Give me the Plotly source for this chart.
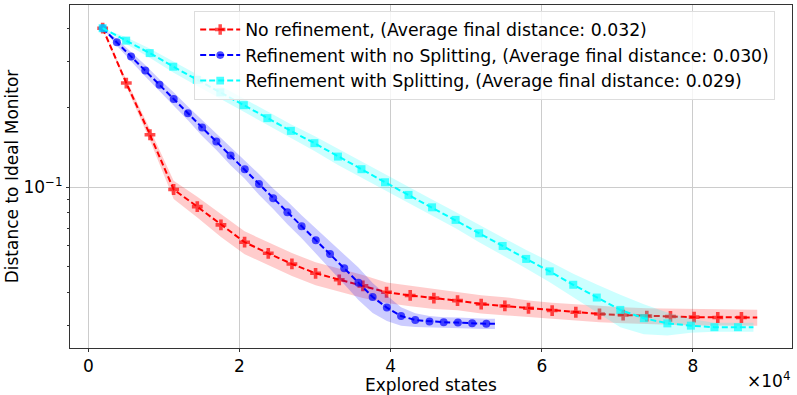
import plotly.graph_objects as go

# ===============================
# DATA
# ===============================
SERIES_NAMES = [
    "No refinement, (Average final distance: 0.032)",
    "Refinement with no Splitting, (Average final distance: 0.030)",
    "Refinement with Splitting, (Average final distance: 0.029)",
]

# last point of each series is the line end (no marker)
red_x = [1900, 5030, 8160, 11290, 14420, 17550, 20680, 23810, 26940, 30070,
         33200, 36330, 39460, 42590, 45720, 48850, 51980, 55110, 58240, 61370,
         64500, 67630, 70760, 73890, 77020, 80150, 83280, 86410, 88500]
red_y = [0.400, 0.248, 0.158, 0.098, 0.0844, 0.0720, 0.0619, 0.0562, 0.0512, 0.0472,
         0.0446, 0.0423, 0.0400, 0.0389, 0.0380, 0.0372, 0.0361, 0.0355, 0.0348, 0.0341,
         0.0336, 0.0331, 0.0328, 0.0325, 0.0324, 0.0322, 0.0321, 0.0321, 0.0321]
red_spread = [0.0, 0.03, 0.05, 0.08, 0.09, 0.10, 0.10, 0.10, 0.10, 0.10,
              0.10, 0.10, 0.09, 0.09, 0.09, 0.08, 0.08, 0.08, 0.07, 0.07,
              0.07, 0.07, 0.07, 0.07, 0.07, 0.07, 0.07, 0.07, 0.07]

blue_x = [1900, 3780, 5660, 7540, 9420, 11300, 13180, 15060, 16940, 18820,
          20700, 22580, 24460, 26340, 28220, 30100, 31980, 33860, 35740, 37620,
          39500, 41380, 43260, 45140, 47020, 48900, 50780, 52660, 53800]
blue_y = [0.400, 0.354, 0.3125, 0.2765, 0.2441, 0.2160, 0.1907, 0.1682, 0.1488, 0.1317,
          0.1170, 0.1029, 0.0908, 0.0804, 0.0712, 0.0630, 0.0559, 0.0493, 0.0435, 0.0384,
          0.0350, 0.0325, 0.0314, 0.0310, 0.0308, 0.0307, 0.0305, 0.0304, 0.0304]
blue_spread = [0.0, 0.03, 0.04, 0.05, 0.05, 0.06, 0.06, 0.07, 0.07, 0.08,
               0.08, 0.09, 0.09, 0.10, 0.10, 0.11, 0.12, 0.13, 0.14, 0.13,
               0.11, 0.08, 0.06, 0.05, 0.045, 0.045, 0.045, 0.045, 0.045]

cyan_x = [1900, 5013, 8126, 11239, 14352, 17465, 20578, 23691, 26804, 29917,
          33030, 36143, 39256, 42369, 45482, 48595, 51708, 54821, 57934, 61047,
          64160, 67273, 70386, 73499, 76612, 79725, 82838, 85951, 88000]
cyan_y = [0.400, 0.359, 0.322, 0.286, 0.255, 0.2286, 0.2045, 0.1826, 0.1634, 0.1468,
          0.1306, 0.1170, 0.1044, 0.0935, 0.0839, 0.0752, 0.0669, 0.0599, 0.0535, 0.0480,
          0.0427, 0.0382, 0.0343, 0.0319, 0.0305, 0.0299, 0.0295, 0.0295, 0.0295]
cyan_spread = [0.0, 0.03, 0.04, 0.05, 0.05, 0.06, 0.06, 0.06, 0.06, 0.065,
               0.07, 0.07, 0.07, 0.07, 0.07, 0.07, 0.075, 0.08, 0.08, 0.09,
               0.10, 0.12, 0.14, 0.13, 0.10, 0.06, 0.04, 0.04, 0.04]

X_TICKS = [0, 20000, 40000, 60000, 80000]
X_TICK_TEXT = ["0", "2", "4", "6", "8"]

FONT = "DejaVu Sans"


def add_series(fig, x, y, spread, name, color, band, symbol, size):
    upper = [v * (1 + s) for v, s in zip(y, spread)]
    lower = [v * (1 - s) for v, s in zip(y, spread)]
    fig.add_trace(go.Scatter(
        x=x + x[::-1], y=upper + lower[::-1],
        fill="toself", fillcolor=band, line=dict(width=0),
        mode="lines", hoverinfo="skip", showlegend=False
    ))
    sizes = [size] * (len(x) - 1) + [0]
    fig.add_trace(go.Scatter(
        x=x, y=y, name=name, mode="lines+markers",
        line=dict(color=color, width=2, dash="6px,3px"),
        marker=dict(symbol=symbol, size=sizes, color=color, line=dict(width=0))
    ))


fig = go.Figure()
add_series(fig, red_x, red_y, red_spread, SERIES_NAMES[0], "#ff0000",
           "rgba(255,0,0,0.2)", "cross", 9)
add_series(fig, blue_x, blue_y, blue_spread, SERIES_NAMES[1], "#0000ff",
           "rgba(0,0,255,0.2)", "circle", 8)
add_series(fig, cyan_x, cyan_y, cyan_spread, SERIES_NAMES[2], "#00ffff",
           "rgba(0,255,255,0.2)", "square", 8)

axis_common = dict(
    showline=True, linecolor="#333333", linewidth=1, mirror=True,
    showgrid=True, gridcolor="#cccccc", gridwidth=1,
    ticks="outside", ticklen=3, tickcolor="#333333",
    tickfont=dict(family=FONT, size=17, color="black"),
    zeroline=False, automargin=False
)

fig.update_layout(
    width=797, height=395,
    margin=dict(l=70, r=5, t=5, b=47),
    paper_bgcolor="white", plot_bgcolor="white",
    font=dict(family=FONT, color="black"),
    xaxis=dict(
        range=[-2420, 93100], tickvals=X_TICKS, ticktext=X_TICK_TEXT,
        title=dict(text="Explored states", font=dict(size=17), standoff=0),
        **axis_common
    ),
    yaxis=dict(
        type="log", range=[-1.609, -0.310],
        tickvals=[0.1], ticktext=["10<sup>\u22121</sup>"],
        minor=dict(tickvals=[0.03, 0.04, 0.05, 0.06, 0.07, 0.08, 0.09, 0.2, 0.3, 0.4],
                   ticks="outside", ticklen=2, tickcolor="#333333", showgrid=False),
        title=dict(text="Distance to Ideal Monitor", font=dict(size=17), standoff=0),
        **axis_common
    ),
    legend=dict(
        x=0.172, y=0.983, xanchor="left", yanchor="top",
        bgcolor="rgba(255,255,255,0.8)", bordercolor="#dddddd", borderwidth=1,
        font=dict(family=FONT, size=17.3), itemwidth=40, tracegroupgap=0
    ),
    annotations=[dict(
        text="\u00d710<sup>4</sup>", x=1, y=-0.093, xref="paper", yref="paper",
        xanchor="right", yanchor="middle", showarrow=False,
        font=dict(family=FONT, size=17)
    )]
)

fig.write_html("out.html", post_script="document.body.style.margin='0';",
               config={"displayModeBar": False})
